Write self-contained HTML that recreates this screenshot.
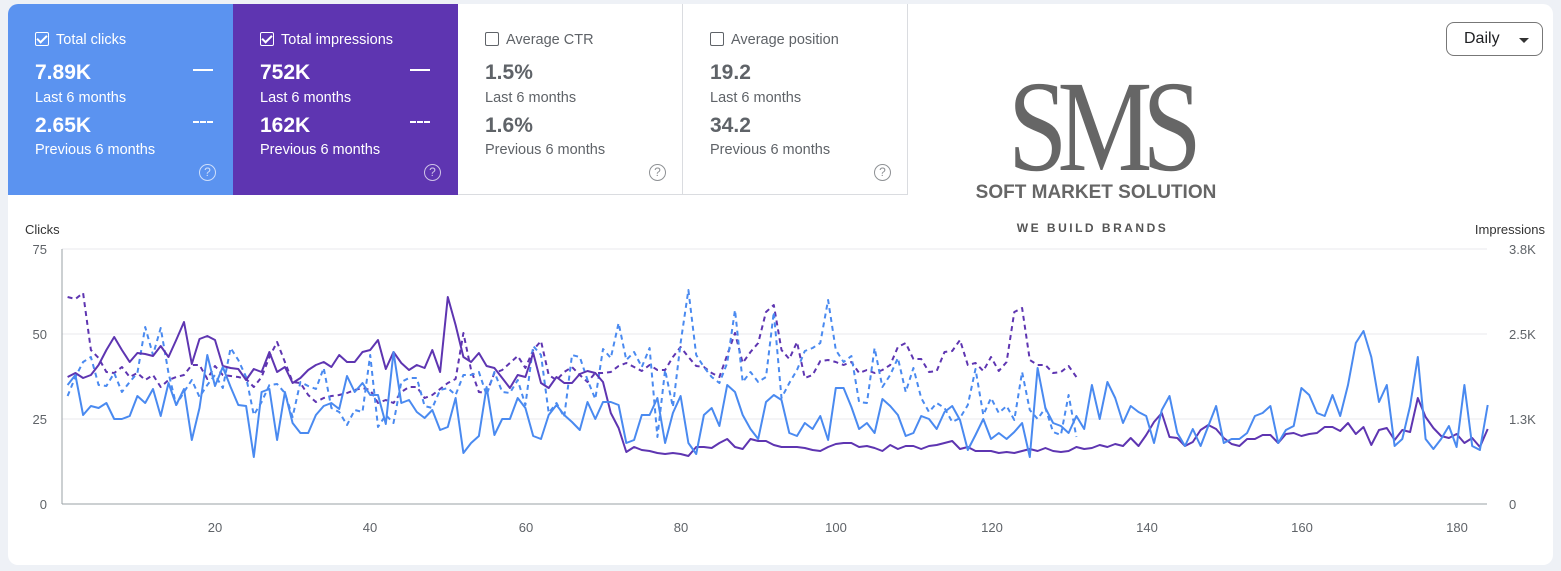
<!DOCTYPE html>
<html><head><meta charset="utf-8">
<style>
body{margin:0;width:1561px;height:571px;background:#eef1f6;font-family:"Liberation Sans",sans-serif;overflow:hidden;position:relative}
.wrap{position:absolute;left:8px;top:4px;width:1545px;height:561px;background:#fff;border-radius:10px}
.card{position:absolute;top:4px;width:225px;height:191px;box-sizing:border-box}
.card .t{position:absolute;left:27px;top:28px;font-size:14.5px}
.cb{display:inline-block;width:12px;height:12px;border:1.5px solid currentColor;border-radius:2px;vertical-align:-2px;margin-right:7px;position:relative}
.cb.on::after{content:"";position:absolute;left:3px;top:0px;width:4px;height:8px;border:solid currentColor;border-width:0 2px 2px 0;transform:rotate(45deg)}
.v{position:absolute;left:27px;font-size:21px;font-weight:bold}
.s{position:absolute;left:27px;font-size:14.5px}
.q{position:absolute;left:191px;top:160px;width:15px;height:15px;border:1.5px solid currentColor;border-radius:50%;font-size:12px;text-align:center;line-height:15px;opacity:.7}
.ln{position:absolute;left:177px;width:20px;height:2px;background:#fff}
.dl{position:absolute;left:177px;width:20px;height:0;border-top:2px dashed #fff}
</style></head><body>
<div class="wrap"></div>
<div class="card" style="left:8px;background:#5b93f0;color:#fff;border-top-left-radius:10px">
<div class="t"><span class="cb on"></span>Total clicks</div>
<div class="v" style="top:57px">7.89K</div><div class="ln" style="left:185px;top:65px"></div>
<div class="s" style="top:86px">Last 6 months</div>
<div class="v" style="top:110px">2.65K</div><div class="dl" style="left:185px;top:117px"></div>
<div class="s" style="top:138px">Previous 6 months</div>
<div class="q">?</div></div>
<div class="card" style="left:233px;background:#5e35b1;color:#fff">
<div class="t"><span class="cb on"></span>Total impressions</div>
<div class="v" style="top:57px">752K</div><div class="ln" style="left:177px;top:65px"></div>
<div class="s" style="top:86px">Last 6 months</div>
<div class="v" style="top:110px">162K</div><div class="dl" style="left:177px;top:117px"></div>
<div class="s" style="top:138px">Previous 6 months</div>
<div class="q">?</div></div>
<div class="card" style="left:458px;color:#5f6368;border-right:1px solid #dadce0;border-bottom:1px solid #dadce0">
<div class="t"><span class="cb"></span>Average CTR</div>
<div class="v" style="top:57px">1.5%</div>
<div class="s" style="top:86px">Last 6 months</div>
<div class="v" style="top:110px">1.6%</div>
<div class="s" style="top:138px">Previous 6 months</div>
<div class="q">?</div></div>
<div class="card" style="left:683px;color:#5f6368;border-right:1px solid #dadce0;border-bottom:1px solid #dadce0">
<div class="t"><span class="cb"></span>Average position</div>
<div class="v" style="top:57px">19.2</div>
<div class="s" style="top:86px">Last 6 months</div>
<div class="v" style="top:110px">34.2</div>
<div class="s" style="top:138px">Previous 6 months</div>
<div class="q">?</div></div>

<div style="position:absolute;left:985px;top:62px;width:230px;text-align:center;font-family:'Liberation Serif',serif;font-size:130px;line-height:130px;color:#666;letter-spacing:-12px;transform:scaleX(0.82);transform-origin:center">SMS</div>
<div style="position:absolute;left:955px;top:182px;width:282px;text-align:center;font-size:19px;font-weight:bold;color:#666">SOFT MARKET SOLUTION</div>
<div style="position:absolute;left:990px;top:221px;width:205px;text-align:center;font-size:12px;font-weight:bold;color:#555;letter-spacing:2.5px">WE BUILD BRANDS</div>

<div style="position:absolute;left:1446px;top:22px;width:97px;height:34px;border:1px solid #777;border-radius:8px;box-sizing:border-box;font-size:16px;color:#202124;line-height:32px;padding-left:17px">Daily<span style="position:absolute;left:72px;top:15px;border-left:5px solid transparent;border-right:5px solid transparent;border-top:5px solid #333"></span></div>

<svg style="position:absolute;left:0;top:0" width="1561" height="571" font-family="Liberation Sans, sans-serif" font-size="13" fill="#5f6368">
<text x="25" y="234" fill="#333">Clicks</text>
<text x="1545" y="234" text-anchor="end" fill="#333">Impressions</text>
<g stroke="#e8eaed" stroke-width="1"><line x1="62" y1="249" x2="1487" y2="249"/><line x1="62" y1="334" x2="1487" y2="334"/><line x1="62" y1="419" x2="1487" y2="419"/></g>
<line x1="62" y1="504" x2="1487" y2="504" stroke="#9aa0a6"/>
<line x1="62" y1="249" x2="62" y2="504" stroke="#9aa0a6"/>
<g text-anchor="end"><text x="47" y="254">75</text><text x="47" y="339">50</text><text x="47" y="424">25</text><text x="47" y="509">0</text></g>
<g><text x="1509" y="254">3.8K</text><text x="1509" y="339">2.5K</text><text x="1509" y="424">1.3K</text><text x="1509" y="509">0</text></g>
<g text-anchor="middle"><text x="215" y="532">20</text><text x="370" y="532">40</text><text x="526" y="532">60</text><text x="681" y="532">80</text><text x="836" y="532">100</text><text x="992" y="532">120</text><text x="1147" y="532">140</text><text x="1302" y="532">160</text><text x="1457" y="532">180</text></g>
<g id="lines" fill="none" stroke-width="2" stroke-linejoin="round"></g>
</svg>
<script>
var sp=[377,373,378,375,365,350,337,350,362,353,354,356,346,357,340,322,364,339,336,340,366,368,369,380,369,372,352,372,367,383,378,370,365,362,367,355,362,362,352,350,340,369,352,363,370,
365,368,350,372,297,325,357,362,353,366,368,378,388,375,377,353,383,388,377,383,383,374,371,373,382,413,428,452,447,450,451,453,454,453,454,456,447,447,448,443,439,447,449,439,441,441,
445,447,447,447,448,450,451,447,444,443,443,447,446,448,451,445,449,446,446,449,446,445,443,441,449,447,451,451,451,453,452,453,451,449,451,448,451,452,451,447,449,448,
445,447,444,446,438,446,435,422,413,437,438,446,442,430,425,429,438,444,446,439,439,435,435,443,434,433,436,434,433,427,427,431,423,434,427,445,430,428,440,430,432,398,417,428,436,438,434,443,438,447,429];
var sb=[385,375,415,406,408,403,419,419,416,396,403,389,416,383,405,389,440,408,355,386,367,387,405,406,457,392,389,440,392,423,433,433,415,406,403,409,376,392,383,395,395,424,352,403,400,
412,418,410,430,427,398,453,443,436,387,435,419,419,398,408,436,439,415,405,415,422,430,402,419,402,402,405,443,440,415,415,398,443,413,396,443,454,415,408,426,385,392,415,429,439,402,
395,400,433,436,423,429,416,440,388,388,407,429,423,433,399,406,415,436,433,416,419,429,412,406,420,450,435,419,439,433,439,432,423,457,368,408,423,426,433,416,429,385,419,382,398,
423,406,412,416,443,410,396,433,446,429,446,426,406,443,439,439,433,416,413,406,443,430,426,388,395,413,416,395,416,385,343,331,357,402,385,446,439,406,357,439,449,439,426,447,385,446,450,405];
var dp=[297,299,293,350,358,372,373,367,377,373,380,375,387,380,377,375,365,365,379,366,375,376,377,379,387,377,357,342,362,382,383,395,402,398,396,395,393,390,388,390,403,400,403,392,387,
387,398,395,389,383,379,333,370,392,393,373,370,363,356,368,350,341,375,380,372,367,375,382,373,373,372,366,363,367,371,365,370,370,357,347,357,366,367,373,377,355,333,363,352,343,312,
305,350,359,342,378,375,361,360,362,365,362,373,370,373,370,365,347,343,359,359,372,371,352,351,340,365,363,371,357,371,362,312,308,360,365,365,373,372,366,377];
var db=[396,377,362,357,385,386,373,392,382,373,327,355,328,373,405,392,380,397,385,375,388,348,360,377,415,402,385,384,393,417,382,386,389,368,408,412,425,410,412,355,427,415,423,382,378,
378,406,408,390,388,395,375,375,372,395,372,392,393,380,405,346,355,413,403,417,355,357,380,399,349,358,323,360,352,367,348,437,370,407,343,290,355,367,377,383,363,310,382,372,382,377,
312,398,383,370,351,348,343,300,350,362,356,402,403,348,387,375,358,392,368,398,412,403,408,422,418,405,369,415,398,413,406,420,372,410,419,408,432,435,395,437];
function pl(a,c,d){var p=a.map(function(y,i){return (67.6+i*7.76).toFixed(1)+","+y}).join(" ");
return '<polyline points="'+p+'" stroke="'+c+'"'+(d?' stroke-dasharray="5,4"':'')+'/>';}
document.getElementById("lines").innerHTML=pl(dp,"#5e35b1",1)+pl(db,"#4a8af0",1)+pl(sp,"#5e35b1",0)+pl(sb,"#4a8af0",0);
</script>
</body></html>
